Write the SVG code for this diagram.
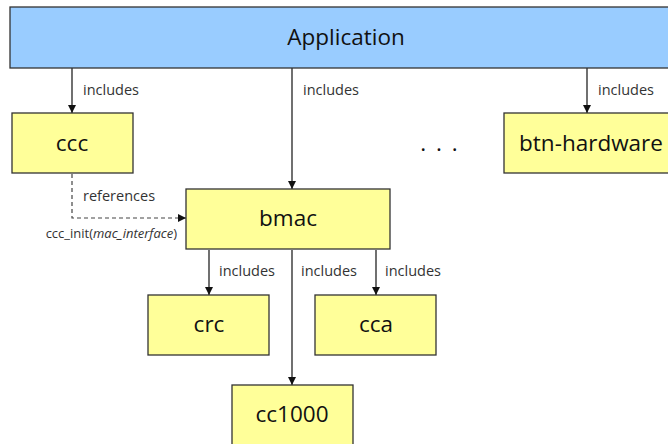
<svg xmlns="http://www.w3.org/2000/svg" width="668" height="444" viewBox="0 0 668 444">
<style>
.box{fill:#FFFF99;stroke:#333;stroke-width:1.3}
.app{fill:#99CCFF;stroke:#333;stroke-width:1.3}
.big{font-family:"Open Sans","Liberation Sans",sans-serif;font-size:22.5px;fill:#111;text-anchor:middle}
.lbl{font-family:"Open Sans","Liberation Sans",sans-serif;font-size:14.5px;fill:#333}
.sm{font-family:"Open Sans","Liberation Sans",sans-serif;font-size:13px;fill:#333}
.ln{stroke:#111;stroke-width:1.2;fill:none}
.dash{stroke:#444;stroke-width:1.2;fill:none;stroke-dasharray:4,3}
</style>
<defs>
<marker id="ah" markerWidth="8" markerHeight="8" refX="8" refY="4" orient="auto" markerUnits="userSpaceOnUse">
<path d="M0,0 L8,4 L0,8 Z" fill="#111"/>
</marker>
</defs>
<g id="connectors">
<line class="ln" x1="72" y1="68" x2="72" y2="113" marker-end="url(#ah)"/>
<line class="ln" x1="292" y1="68" x2="292" y2="189" marker-end="url(#ah)"/>
<line class="ln" x1="587" y1="68" x2="587" y2="113" marker-end="url(#ah)"/>
<polyline class="dash" points="72,174 72,218 186,218" marker-end="url(#ah)"/>
<line class="ln" x1="209" y1="250" x2="209" y2="295" marker-end="url(#ah)"/>
<line class="ln" x1="292" y1="250" x2="292" y2="385" marker-end="url(#ah)"/>
<line class="ln" x1="376" y1="250" x2="376" y2="295" marker-end="url(#ah)"/>
<text class="lbl" x="83" y="95">includes</text>
<text class="lbl" x="303" y="95">includes</text>
<text class="lbl" x="598" y="95">includes</text>
<text class="lbl" x="83" y="201">references</text>
<text class="sm" x="177" y="238" text-anchor="end">ccc_init(<tspan font-style="italic">mac_interface</tspan>)</text>
<text class="lbl" x="219" y="276">includes</text>
<text class="lbl" x="301" y="276">includes</text>
<text class="lbl" x="385" y="276">includes</text>
</g>
<g id="application">
<rect class="app" x="10" y="7" width="680" height="61"/>
<text class="big" x="346" y="45">Application</text>
</g>
<g id="ccc">
<rect class="box" x="12" y="113" width="121" height="60"/>
<text class="big" x="72" y="151">ccc</text>
</g>
<g id="bmac">
<rect class="box" x="186" y="189" width="204" height="60"/>
<text class="big" x="288" y="226">bmac</text>
</g>
<g id="btn-hardware">
<rect class="box" x="504" y="113" width="180" height="60"/>
<text class="big" x="591" y="151">btn-hardware</text>
</g>
<g id="dots">
<text class="big" x="440" y="151" letter-spacing="2">. . .</text>
</g>
<g id="crc">
<rect class="box" x="148" y="295" width="121" height="60"/>
<text class="big" x="209" y="332">crc</text>
</g>
<g id="cca">
<rect class="box" x="315" y="295" width="121" height="60"/>
<text class="big" x="376" y="332">cca</text>
</g>
<g id="cc1000">
<rect class="box" x="232" y="385" width="121" height="70"/>
<text class="big" x="292" y="422">cc1000</text>
</g>
</svg>
